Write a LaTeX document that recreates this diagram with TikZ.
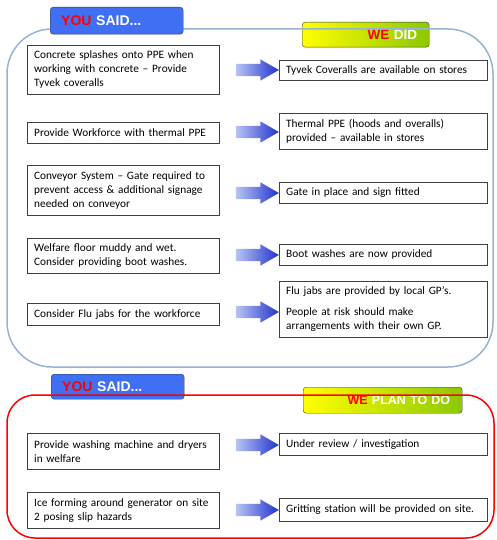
\documentclass[tikz,border=0pt]{standalone}
\usepackage{fontspec}
\setmainfont{Carlito}
\newfontfamily\headfont{Liberation Sans}
\usetikzlibrary{shapes.arrows}
\definecolor{panelblue}{HTML}{95B3D7}
\definecolor{saidblue}{HTML}{3F6FF2}
\definecolor{hdrline}{HTML}{3A3A55}
\definecolor{wegreen}{HTML}{8CC800}
\definecolor{arrowlight}{HTML}{B8C4F4}
\definecolor{arrowdark}{HTML}{2233CC}
\definecolor{boxline}{HTML}{404040}

\begin{document}
\begin{tikzpicture}[x=1pt,y=-1pt,
  said/.style={draw=hdrline,fill=saidblue,rounded corners=3pt,anchor=north west,
    text width=111pt,inner xsep=11pt,inner ysep=0pt,minimum height=27pt,align=left,
    font=\headfont\bfseries\fontsize{14}{14}\selectfont,text=white},
  we/.style={draw=hdrline,left color=yellow,right color=wegreen,rounded corners=3pt,
    anchor=north west,inner xsep=12pt,inner ysep=0pt,align=right,
    font=\headfont\bfseries\fontsize{13.5}{14}\selectfont,text=white},
  leftbox/.style={draw=boxline,fill=white,anchor=north west,text width=178pt,
    inner xsep=7pt,inner ysep=2pt,align=left,font=\fontsize{11.3}{14}\selectfont},
  rightbox/.style={leftbox,text width=194pt},
  blockarrow/.style={single arrow,minimum height=43pt,inner xsep=0pt,inner ysep=6pt,
    single arrow head extend=4.5pt,single arrow tip angle=60,
    left color=arrowlight,right color=arrowdark}]
  \useasboundingbox (0,0) rectangle (496,540);

  \node[we,text width=103pt,minimum height=25pt] (wedid) at (302,22) {\textcolor{red}{WE} DID};
  \draw[panelblue,line width=1.5pt,rounded corners=45pt] (7,29) rectangle (493,367);
  \node[said] (said1) at (50,7) {\textcolor{red}{YOU} SAID...};

  \node[leftbox,minimum height=49pt] (l1) at (27,45)
    {Concrete splashes onto PPE when\\ working with concrete -- Provide\\ Tyvek coveralls};
  \node[leftbox,minimum height=21pt] (l2) at (27,122) {Provide Workforce with thermal PPE};
  \node[leftbox,minimum height=50pt] (l3) at (27,165)
    {Conveyor System -- Gate required to\\ prevent access \& additional signage\\ needed on conveyor};
  \node[leftbox,minimum height=35pt] (l4) at (27,238)
    {Welfare floor muddy and wet.\\ Consider providing boot washes.};
  \node[leftbox,minimum height=22pt] (l5) at (27,303) {Consider Flu jabs for the workforce};

  \node[rightbox,minimum height=20pt] (r1) at (279,60) {Tyvek Coveralls are available on stores};
  \node[rightbox,minimum height=36pt] (r2) at (279,113)
    {Thermal PPE (hoods and overalls)\\ provided -- available in stores};
  \node[rightbox,minimum height=21pt] (r3) at (279,182) {Gate in place and sign fitted};
  \node[rightbox,minimum height=21pt] (r4) at (279,244) {Boot washes are now provided};
  \node[rightbox,minimum height=56pt] (r5) at (279,281)
    {Flu jabs are provided by local GP’s.\\[7pt] People at risk should make\\ arrangements with their own GP.};

  \node[blockarrow] (a1) at (252,70) {};
  \node[blockarrow] (a2) at (252,132) {};
  \node[blockarrow] (a3) at (252,193) {};
  \node[blockarrow] (a4) at (252,255) {};
  \node[blockarrow] (a5) at (252,312) {};

  \node[said,minimum height=25pt] (said2) at (51,374) {\textcolor{red}{YOU} SAID...};
  \node[we,text width=135pt,minimum height=26pt,font=\headfont\bfseries\fontsize{12.5}{13}\selectfont,inner xsep=12pt]
    (weplan) at (303,387) {\textcolor{red}{WE} PLAN TO DO};
  \draw[red,line width=1.5pt,rounded corners=28pt] (7,395) rectangle (494,538);

  \node[leftbox,minimum height=36pt] (l6) at (27,433) {Provide washing machine and dryers\\ in welfare};
  \node[leftbox,minimum height=36pt] (l7) at (27,492) {Ice forming around generator on site\\ 2 posing slip hazards};
  \node[rightbox,minimum height=22pt] (r6) at (279,433) {Under review / investigation};
  \node[rightbox,minimum height=23pt] (r7) at (279,498) {Gritting station will be provided on site.};

  \node[blockarrow] (a6) at (252,445) {};
  \node[blockarrow] (a7) at (252,510) {};
\end{tikzpicture}
\end{document}
